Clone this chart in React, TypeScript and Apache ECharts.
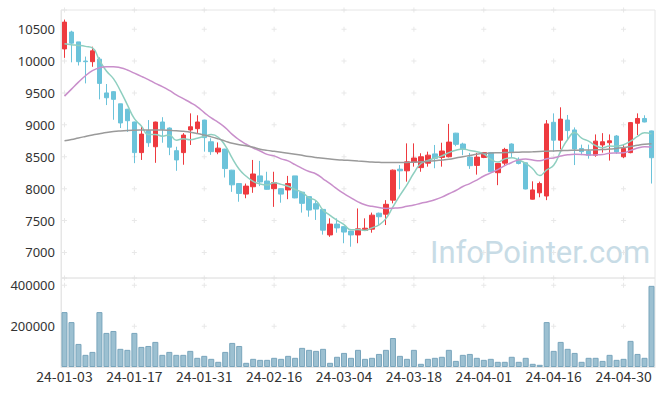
import React, { useEffect, useRef } from "react";
import * as echarts from "echarts";

const dates = [
  "24-01-03","24-01-04","24-01-05","24-01-08","24-01-09","24-01-10","24-01-11","24-01-12","24-01-15","24-01-16",
  "24-01-17","24-01-18","24-01-19","24-01-22","24-01-23","24-01-24","24-01-25","24-01-26","24-01-29","24-01-30",
  "24-01-31","24-02-01","24-02-02","24-02-05","24-02-06","24-02-07","24-02-08","24-02-13","24-02-14","24-02-15",
  "24-02-16","24-02-19","24-02-20","24-02-21","24-02-22","24-02-23","24-02-26","24-02-27","24-02-28","24-02-29",
  "24-03-04","24-03-05","24-03-06","24-03-07","24-03-08","24-03-11","24-03-12","24-03-13","24-03-14","24-03-15",
  "24-03-18","24-03-19","24-03-20","24-03-21","24-03-22","24-03-25","24-03-26","24-03-27","24-03-28","24-03-29",
  "24-04-01","24-04-02","24-04-03","24-04-04","24-04-05","24-04-08","24-04-09","24-04-11","24-04-12","24-04-15",
  "24-04-16","24-04-17","24-04-18","24-04-19","24-04-22","24-04-23","24-04-24","24-04-25","24-04-26","24-04-29",
  "24-04-30","24-05-02","24-05-03","24-05-07","24-05-08"
];

// [open, close, low, high]
const ohlc = [
  [10190,10610,10050,10650],[10455,10280,9980,10475],[10300,9990,9930,10300],[10000,9990,9650,10070],[9990,10160,9910,10225],
  [10030,9650,9400,10060],[9500,9425,9310,9640],[9520,9400,9080,9530],[9330,9030,8950,9330],[9245,9065,8890,9250],
  [9045,8565,8400,9050],[8565,8855,8450,8970],[8910,8720,8655,9075],[8657,9044,8405,9050],[9045,8930,8720,9120],
  [8950,8650,8525,8960],[8595,8450,8280,8657],[8565,8840,8375,8870],[8920,8970,8685,9180],[8940,9045,8860,9150],
  [9075,8800,8580,9080],[8735,8580,8530,8790],[8575,8635,8540,8725],[8620,8315,8175,8625],[8290,8060,7950,8295],
  [8080,7925,7795,8085],[7915,8040,7850,8080],[8030,8230,7935,8450],[8200,8105,8040,8435],[8120,7990,7985,8265],
  [8000,8095,7715,8265],[8000,7915,7780,8005],[7980,8080,7835,8200],[8200,7855,7850,8200],[7945,7770,7625,7950],
  [7875,7665,7560,7880],[7765,7680,7510,7820],[7675,7350,7280,7680],[7275,7445,7245,7535],[7445,7385,7310,7535],
  [7405,7320,7145,7410],[7335,7275,7090,7340],[7275,7370,7145,7690],[7345,7380,7340,7535],[7365,7585,7310,7625],
  [7615,7560,7415,7625],[7600,7755,7430,7820],[7820,8290,7770,8300],[8305,8280,7990,8370],[8280,8420,8110,8710],
  [8420,8480,8345,8710],[8330,8500,8265,8555],[8400,8525,8345,8580],[8545,8475,8320,8685],[8490,8590,8345,8720],
  [8500,8730,8490,9015],[8870,8695,8665,8875],[8700,8620,8525,8720],[8495,8360,8310,8560],[8365,8495,8220,8560],
  [8490,8565,8480,8575],[8565,8265,8260,8575],[8250,8395,8055,8400],[8400,8615,8370,8640],[8700,8575,8490,8710],
  [8460,8395,8380,8490],[8405,7995,7990,8410],[7835,7980,7830,8115],[7935,8080,7865,8110],[7885,9015,7820,9075],
  [9040,8760,8580,9180],[8760,9090,8615,9275],[9075,8910,8760,9155],[8920,8620,8370,8960],[8630,8580,8525,8690],
  [8590,8525,8470,8690],[8525,8745,8500,8850],[8685,8735,8565,8870],[8720,8750,8440,8850],[8825,8575,8545,8840],
  [8500,8630,8480,8690],[8565,9035,8555,9045],[9025,9100,8840,9180],[9100,9045,9040,9150],[8905,8485,8080,8910]
];

const ma5 = [
  10270,10255,10245,10230,10206,10014,9843,9725,9533,9314,
  9097,8983,8847,8850,8823,8840,8759,8783,8768,8791,
  8821,8847,8806,8675,8478,8303,8195,8114,8072,8058,
  8092,8067,8037,7987,7943,7857,7810,7664,7582,7505,
  7436,7355,7359,7346,7386,7434,7530,7714,7894,8061,
  8245,8394,8441,8480,8514,8564,8603,8622,8599,8580,
  8547,8461,8416,8467,8483,8449,8395,8312,8205,8293,
  8366,8585,8771,8879,8792,8745,8676,8641,8667,8666,
  8687,8745,8818,8877,8859
];

const ma20 = [
  9450,9560,9670,9770,9850,9895,9912,9912,9895,9860,
  9810,9760,9710,9650,9600,9540,9470,9410,9350,9283,
  9193,9108,9040,8956,8851,8765,8696,8637,8591,8537,
  8514,8467,8435,8376,8318,8268,8230,8155,8079,7996,
  7922,7857,7794,7747,7723,7705,7691,7694,7702,7724,
  7743,7772,7795,7826,7867,7920,7971,8034,8080,8135,
  8198,8247,8298,8360,8410,8451,8463,8448,8438,8468,
  8482,8511,8530,8538,8537,8527,8529,8535,8555,8559,
  8562,8600,8636,8657,8653
];

const ma60 = [
  8750,8770,8795,8818,8840,8860,8880,8895,8905,8912,
  8916,8918,8919,8919,8918,8914,8908,8898,8885,8865,
  8840,8812,8780,8745,8712,8690,8672,8648,8618,8600,
  8585,8570,8556,8540,8522,8505,8490,8476,8465,8455,
  8447,8440,8432,8425,8418,8413,8410,8410,8410,8412,
  8415,8420,8428,8438,8450,8462,8480,8500,8520,8540,
  8552,8558,8562,8565,8568,8572,8575,8578,8582,8588,
  8592,8596,8600,8602,8605,8606,8608,8612,8620,8630,
  8645,8662,8680,8695,8705
];

const volume = [
  269000,220000,113000,59500,74000,269000,167000,176500,89000,84000,
  167000,98500,103000,123000,59500,74000,59500,59500,79000,45000,
  54600,40000,25400,74000,118000,103000,20500,40000,35000,35000,
  45000,40000,54600,45000,93700,84000,79000,89000,20500,50000,
  69000,45000,84000,40000,45000,64000,84000,142000,54600,40000,
  84000,15600,40000,45000,50000,84000,30000,59500,64000,45000,
  35000,40000,25400,25400,50000,25400,45000,15600,10700,220000,
  79000,123000,89000,69000,25400,45000,45000,30000,59500,35000,
  40000,128000,64000,45000,397500
];

const priceTicks = [6600, 7000, 7500, 8000, 8500, 9000, 9500, 10000, 10500, 10800];
const volumeTicks = [200000, 400000];
const gridCategories = [0, 10, 20, 30, 40, 50, 60, 70, 80];

const PLUS = "path://M2,0L3,0L3,2L5,2L5,3L3,3L3,5L2,5L2,3L0,3L0,2L2,2Z";

export default function App() {
  const ref = useRef<HTMLDivElement>(null);
  useEffect(() => {
    if (!ref.current) return;
    const chart = echarts.init(ref.current, null, { renderer: "svg" });
    const font = "Noto Sans";
    const pricePlus: any[] = [];
    gridCategories.forEach((c) => priceTicks.forEach((v) => pricePlus.push([c, v])));
    const volPlus: any[] = [];
    gridCategories.forEach((c) => volumeTicks.forEach((v) => volPlus.push([c, v])));
    chart.setOption({
      animation: false,
      backgroundColor: "#ffffff",
      textStyle: { fontFamily: font },
      grid: [
        { left: 61, right: 10, top: 10, height: 268, show: true, borderColor: "#e6e6e6", borderWidth: 1 },
        { left: 61, right: 10, top: 278, height: 89, show: true, borderColor: "#e6e6e6", borderWidth: 1 },
      ],
      xAxis: [
        {
          type: "category", data: dates, gridIndex: 0, boundaryGap: true,
          axisLine: { show: false }, axisTick: { show: false }, axisLabel: { show: false }, splitLine: { show: false },
        },
        {
          type: "category", data: dates, gridIndex: 1, boundaryGap: true,
          axisLine: { show: true, lineStyle: { color: "#e6e6e6" } }, axisTick: { show: false },
          axisLabel: { interval: 9, color: "#333", fontSize: 14, margin: 2, fontFamily: "Noto Sans CJK KR" },
          splitLine: { show: false },
        },
      ],
      yAxis: [
        {
          type: "value", gridIndex: 0, min: 6600, max: 10800, splitNumber: 8, scale: true,
          axisLine: { show: true, lineStyle: { color: "#e6e6e6" } }, axisTick: { show: false }, splitLine: { show: false },
          axisLabel: {
            color: "#333", fontSize: 13, margin: 6, fontFamily: font,
            formatter: (v: number) => (v % 500 === 0 && v >= 7000 && v <= 10500 ? String(v) : ""),
          },
        },
        {
          type: "value", gridIndex: 1, min: 0, max: 436000, interval: 200000,
          axisLine: { show: true, lineStyle: { color: "#e6e6e6" } }, axisTick: { show: false }, splitLine: { show: false },
          axisLabel: {
            color: "#333", fontSize: 13, margin: 6, fontFamily: font,
            formatter: (v: number) => (v > 0 && v % 200000 === 0 ? String(v) : ""),
          },
        },
      ],
      graphic: [
        {
          type: "text", left: 430, top: 237, z: 0, silent: true,
          style: { text: "InfoPointer.com", fill: "#c8dce6", font: '31px Roboto' },
        },
      ],
      series: [
        {
          type: "scatter", xAxisIndex: 0, yAxisIndex: 0, data: pricePlus, symbol: PLUS, symbolSize: 5,
          itemStyle: { color: "#e2e2e2" }, silent: true, z: 0,
        },
        {
          type: "scatter", xAxisIndex: 1, yAxisIndex: 1, data: volPlus, symbol: PLUS, symbolSize: 5,
          itemStyle: { color: "#e2e2e2" }, silent: true, z: 0,
        },
        {
          type: "candlestick", xAxisIndex: 0, yAxisIndex: 0, data: ohlc, barWidth: 5,
          itemStyle: { color: "#ee3a3f", color0: "#6cc3da", borderColor: "#ee3a3f", borderColor0: "#6cc3da", borderWidth: 1 },
          z: 3,
        },
        {
          type: "line", xAxisIndex: 0, yAxisIndex: 0, data: ma5, smooth: true, symbol: "none",
          lineStyle: { color: "#8fcfc0", width: 1.5 }, z: 4,
        },
        {
          type: "line", xAxisIndex: 0, yAxisIndex: 0, data: ma20, smooth: true, symbol: "none",
          lineStyle: { color: "#c98fcb", width: 1.5 }, z: 4,
        },
        {
          type: "line", xAxisIndex: 0, yAxisIndex: 0, data: ma60, smooth: true, symbol: "none",
          lineStyle: { color: "#9a9a9a", width: 1.5 }, z: 4,
        },
        {
          type: "bar", xAxisIndex: 1, yAxisIndex: 1, data: volume, barWidth: 6,
          itemStyle: { color: "#9cc0d1", borderColor: "#79a5bc", borderWidth: 1 },
          z: 3,
        },
      ],
    });
    return () => chart.dispose();
  }, []);
  return <div ref={ref} style={{ width: 665, height: 396, position: "absolute", left: 0, top: 0 }} />;
}
